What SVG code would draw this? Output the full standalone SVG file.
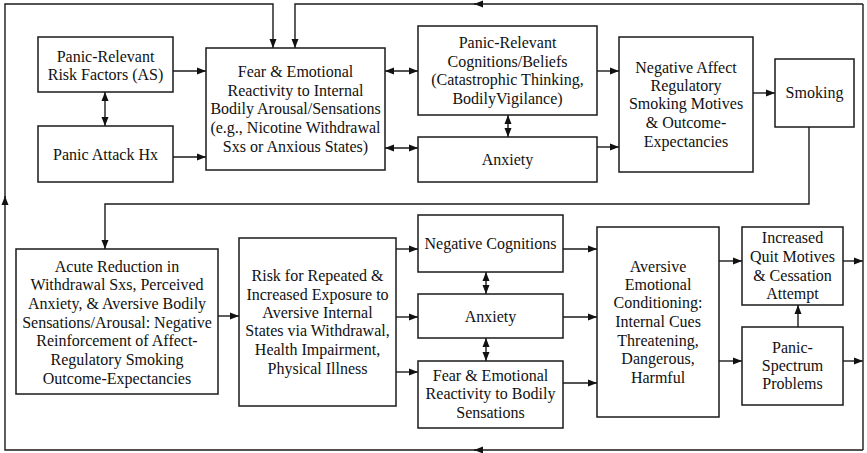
<svg xmlns="http://www.w3.org/2000/svg" width="867" height="453" viewBox="0 0 867 453">
<style>
.b{fill:#fff;stroke:#1a1a1a;stroke-width:1.5}
.t{font-family:'Liberation Serif','Times New Roman',serif;font-size:16px;fill:#111;text-anchor:middle}
.c{fill:none;stroke:#1a1a1a;stroke-width:1.4}
.e{marker-end:url(#a)}
.d{marker-start:url(#a);marker-end:url(#a)}
</style>
<defs>
<marker id="a" markerUnits="userSpaceOnUse" markerWidth="9" markerHeight="8" refX="9" refY="4" orient="auto-start-reverse"><path d="M0,0.5 L9,4 L0,7.5 z" fill="#111"/></marker>
</defs>
<rect width="867" height="453" fill="#fff"/>
<g id="connectors">
<path class="c e" d="M173,71 H206"/>
<path class="c e" d="M173,157 H206"/>
<path class="c d" d="M105,92 V126"/>
<path class="c d" d="M385,71 H418"/>
<path class="c d" d="M385,148 H418"/>
<path class="c d" d="M508,115 V137"/>
<path class="c e" d="M597,71 H619"/>
<path class="c e" d="M597,147 H619"/>
<path class="c e" d="M753,93 H775"/>
<path class="c e" d="M809,127 V204 H105 V249"/>
<path class="c e" d="M218,316 H239"/>
<path class="c e" d="M396,249 H418"/>
<path class="c e" d="M396,317 H418"/>
<path class="c e" d="M396,372 H418"/>
<path class="c d" d="M486,272 V294"/>
<path class="c d" d="M486,338 V361"/>
<path class="c e" d="M563,249 H597"/>
<path class="c e" d="M563,317 H597"/>
<path class="c e" d="M563,383 H597"/>
<path class="c e" d="M719,261 H742"/>
<path class="c e" d="M719,361 H742"/>
<path class="c e" d="M798,327 V305"/>
<path class="c e" d="M843,261 H863"/>
<path class="c e" d="M843,361 H863"/>
<path class="c" d="M863,4 V450"/>
<path class="c e" d="M863,4 H474"/>
<path class="c e" d="M478,4 H295 V48"/>
<path class="c e" d="M863,450 H474"/>
<path class="c e" d="M478,450 H5 V196"/>
<path class="c e" d="M5,200 V4 H273 V48"/>
</g>
<g id="risk-factors"><rect class="b" x="38" y="37" width="135" height="55"/>
<text class="t"><tspan x="105.5" y="62">Panic-Relevant</tspan><tspan x="105.5" y="80">Risk Factors (AS)</tspan></text></g>
<g id="panic-attack"><rect class="b" x="38" y="126" width="135" height="56"/>
<text class="t" x="105.5" y="160">Panic Attack Hx</text></g>
<g id="fear-reactivity"><rect class="b" x="206" y="48" width="179" height="122"/>
<text class="t"><tspan x="295.5" y="77">Fear &amp; Emotional</tspan><tspan x="295.5" y="96">Reactivity to Internal</tspan><tspan x="295.5" y="114">Bodily Arousal/Sensations</tspan><tspan x="295.5" y="133">(e.g., Nicotine Withdrawal</tspan><tspan x="295.5" y="152">Sxs or Anxious States)</tspan></text></g>
<g id="cognitions"><rect class="b" x="418" y="26" width="179" height="89"/>
<text class="t"><tspan x="507.5" y="48">Panic-Relevant</tspan><tspan x="507.5" y="67">Cognitions/Beliefs</tspan><tspan x="507.5" y="85">(Catastrophic Thinking,</tspan><tspan x="507.5" y="104">BodilyVigilance)</tspan></text></g>
<g id="anxiety-top"><rect class="b" x="418" y="137" width="179" height="45"/>
<text class="t" x="507.5" y="165">Anxiety</text></g>
<g id="negative-affect"><rect class="b" x="619" y="37" width="134" height="135"/>
<text class="t"><tspan x="686" y="73">Negative Affect</tspan><tspan x="686" y="91">Regulatory</tspan><tspan x="686" y="109">Smoking Motives</tspan><tspan x="686" y="128">&amp; Outcome-</tspan><tspan x="686" y="147">Expectancies</tspan></text></g>
<g id="smoking"><rect class="b" x="775" y="59" width="79" height="68"/>
<text class="t" x="814.5" y="98">Smoking</text></g>
<g id="acute-reduction"><rect class="b" x="16" y="249" width="202" height="145"/>
<text class="t"><tspan x="117" y="272">Acute Reduction in</tspan><tspan x="117" y="290">Withdrawal Sxs, Perceived</tspan><tspan x="117" y="309">Anxiety, &amp; Aversive Bodily</tspan><tspan x="117" y="328">Sensations/Arousal: Negative</tspan><tspan x="117" y="346">Reinforcement of Affect-</tspan><tspan x="117" y="365">Regulatory Smoking</tspan><tspan x="117" y="384">Outcome-Expectancies</tspan></text></g>
<g id="risk-exposure"><rect class="b" x="239" y="238" width="157" height="168"/>
<text class="t"><tspan x="317.5" y="281">Risk for Repeated &amp;</tspan><tspan x="317.5" y="300">Increased Exposure to</tspan><tspan x="317.5" y="318">Aversive Internal</tspan><tspan x="317.5" y="336">States via Withdrawal,</tspan><tspan x="317.5" y="355">Health Impairment,</tspan><tspan x="317.5" y="374">Physical Illness</tspan></text></g>
<g id="negative-cognitions"><rect class="b" x="418" y="215" width="145" height="57"/>
<text class="t" x="490.5" y="249">Negative Cognitions</text></g>
<g id="anxiety-bottom"><rect class="b" x="418" y="294" width="145" height="44"/>
<text class="t" x="490.5" y="322">Anxiety</text></g>
<g id="fear-bodily"><rect class="b" x="418" y="361" width="145" height="67"/>
<text class="t"><tspan x="490.5" y="381">Fear &amp; Emotional</tspan><tspan x="490.5" y="399">Reactivity to Bodily</tspan><tspan x="490.5" y="418">Sensations</tspan></text></g>
<g id="aversive-conditioning"><rect class="b" x="597" y="227" width="122" height="190"/>
<text class="t"><tspan x="658" y="272">Aversive</tspan><tspan x="658" y="290">Emotional</tspan><tspan x="658" y="308">Conditioning:</tspan><tspan x="658" y="327">Internal Cues</tspan><tspan x="658" y="346">Threatening,</tspan><tspan x="658" y="364">Dangerous,</tspan><tspan x="658" y="383">Harmful</tspan></text></g>
<g id="quit-motives"><rect class="b" x="742" y="227" width="101" height="78"/>
<text class="t"><tspan x="792.5" y="243">Increased</tspan><tspan x="792.5" y="262">Quit Motives</tspan><tspan x="792.5" y="281">&amp; Cessation</tspan><tspan x="792.5" y="299">Attempt</tspan></text></g>
<g id="panic-spectrum"><rect class="b" x="742" y="327" width="101" height="78"/>
<text class="t"><tspan x="792.5" y="353">Panic-</tspan><tspan x="792.5" y="371">Spectrum</tspan><tspan x="792.5" y="389">Problems</tspan></text></g>
</svg>
